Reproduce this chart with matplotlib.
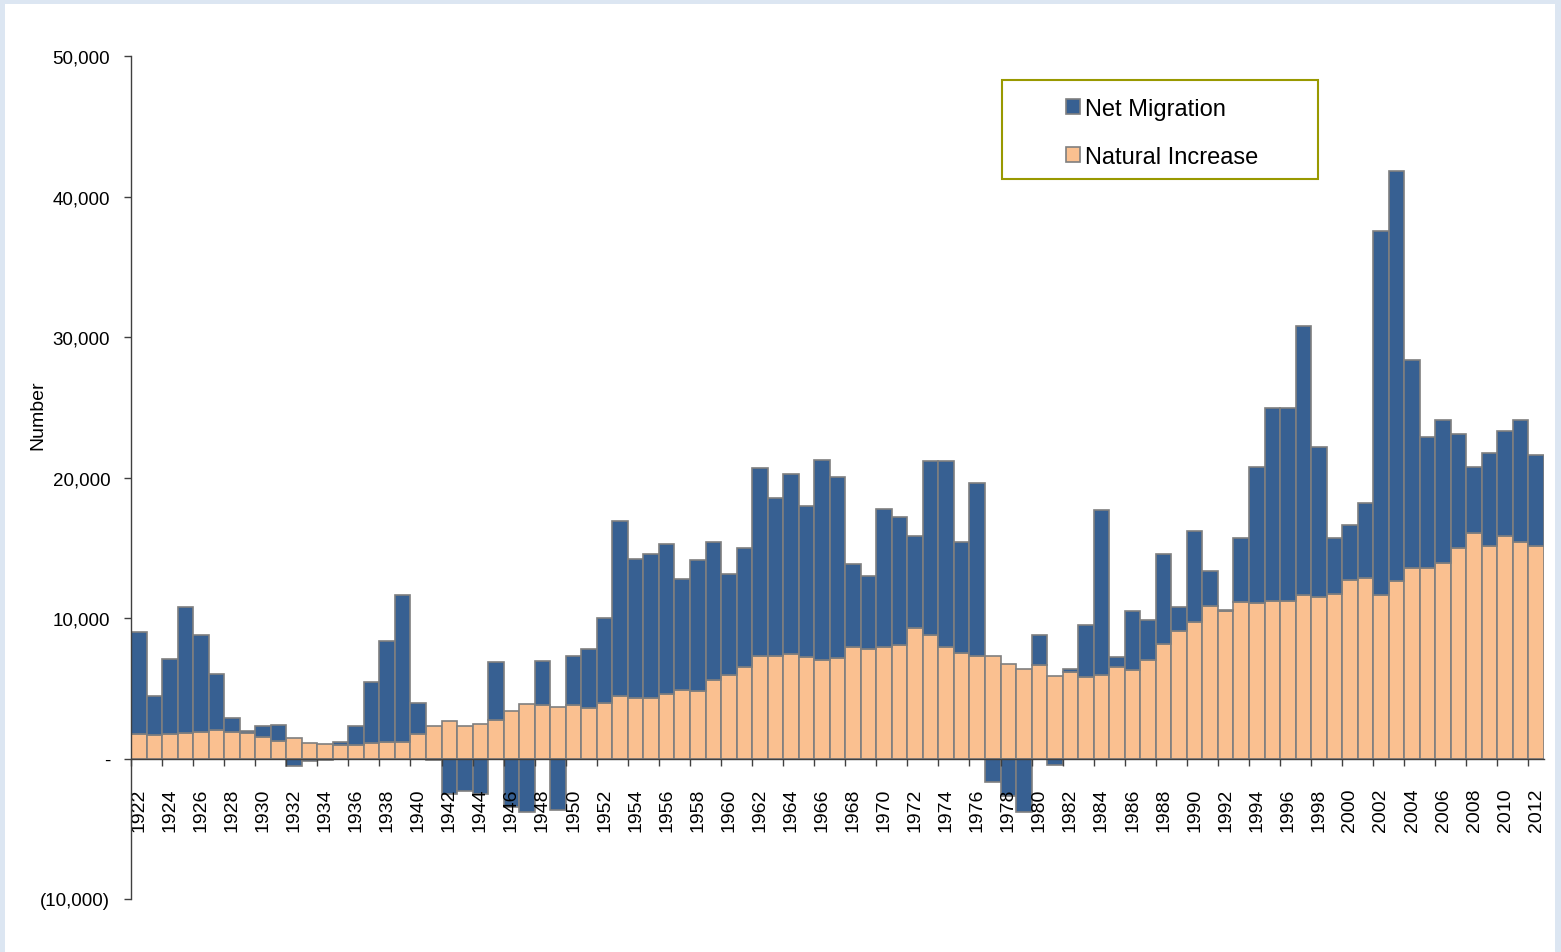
import numpy as np
import matplotlib
matplotlib.use("Agg")
import matplotlib.pyplot as plt
from matplotlib.patches import Rectangle
from matplotlib.ticker import FixedLocator, FuncFormatter

plt.rcParams["font.family"] = ["Liberation Sans", "DejaVu Sans"]

# ── data ───────────────────────────────────────────────────────────────────
years = list(range(1922, 2013))

natural_increase = [
    1760, 1660, 1760, 1830, 1900, 2000, 1900, 1850, 1540, 1240,   # 1922-1931
    1430, 1120, 1020, 970, 950, 1120, 1160, 1160, 1760, 2300,     # 1932-1941
    2680, 2300, 2470, 2760, 3400, 3870, 3800, 3630, 3800, 3560,   # 1942-1951
    3940, 4470, 4300, 4300, 4580, 4890, 4820, 5600, 5910, 6530,   # 1952-1961
    7270, 7320, 7460, 7240, 7030, 7170, 7910, 7770, 7910, 8050,   # 1962-1971
    9310, 8810, 7910, 7530, 7270, 7270, 6750, 6390, 6670, 5880,   # 1972-1981
    6140, 5820, 5950, 6510, 6290, 7010, 8140, 9080, 9730, 10860,  # 1982-1991
    10490, 11170, 11080, 11240, 11240, 11640, 11520, 11740, 12710, 12860,  # 1992-2001
    11640, 12650, 13580, 13580, 13900, 14990, 16030, 15090, 15810, 15430,  # 2002-2011
    15090,                                                          # 2012
]

net_migration = [
    7220, 2810, 5290, 8970, 6860, 4030, 970, 100, 760, 1160,       # 1922-1931
    -520, -200, -120, 220, 1350, 4320, 7220, 10480, 2180, -120,    # 1932-1941
    -2550, -2330, -2500, 4140, -3480, -3820, 3110, -3680, 3490, 4210,  # 1942-1951
    6080, 12440, 9880, 10260, 10720, 7890, 9290, 9840, 7220, 8480,  # 1952-1961
    13440, 11230, 12800, 10720, 14250, 12850, 5910, 5220, 9830, 9150,  # 1962-1971
    6510, 12330, 13230, 7910, 12350, -1650, -2700, -3800, 2130, -480,  # 1972-1981
    250, 3700, 11730, 720, 4230, 2850, 6450, 1720, 6450, 2470,     # 1982-1991
    100, 4510, 9670, 13740, 13740, 19130, 10670, 3940, 3940, 5360,  # 1992-2001
    25890, 29140, 14810, 9270, 10200, 8080, 4720, 6660, 7510, 8640,  # 2002-2011
    6510,                                                          # 2012
]

series_labels = ["Net Migration", "Natural Increase"]
y_ticks = [-10000, 0, 10000, 20000, 30000, 40000, 50000]

BLUE = "#376092"
ORANGE = "#FAC090"
EDGE = "#7F7F7F"


def fmt_number(v, _pos=None):
    # Excel accounting style: "-" for zero, brackets for negatives
    if v == 0:
        return "-"
    if v < 0:
        return f"({abs(v):,.0f})"
    return f"{v:,.0f}"


def main():
    W, H = 1561, 953
    fig = plt.figure(figsize=(W / 100, H / 100), dpi=100, facecolor="#DCE6F2")
    # white panel inside the light blue frame
    fig.patches.append(Rectangle((5 / W, 0), 1550 / W, 948 / H,
                                 transform=fig.transFigure, facecolor="white",
                                 edgecolor="none", zorder=-10))

    ax = fig.add_axes([131 / W, 1 - 900 / H, (1544 - 131) / W, (900 - 57) / H])
    ax.set_facecolor("none")

    x = np.arange(len(years))
    nat = np.array(natural_increase)
    mig = np.array(net_migration)

    ax.bar(x, nat, width=1.0, color=ORANGE, edgecolor=EDGE, linewidth=1.2,
           label=series_labels[1], zorder=1)
    ax.bar(x, mig, width=1.0, bottom=np.where(mig > 0, nat, 0), color=BLUE,
           edgecolor=EDGE, linewidth=1.2, label=series_labels[0], zorder=1)

    ax.set_xlim(-0.5, len(years) - 0.5)
    ax.set_ylim(-10000, 50000)

    # axes lines
    ax.spines["top"].set_visible(False)
    ax.spines["right"].set_visible(False)
    ax.spines["bottom"].set_position(("data", 0))
    for s in ("left", "bottom"):
        ax.spines[s].set_color("#404040")
        ax.spines[s].set_linewidth(1.0)

    # y axis
    ax.yaxis.set_major_locator(FixedLocator(y_ticks))
    ax.yaxis.set_major_formatter(FuncFormatter(fmt_number))
    ax.tick_params(axis="y", direction="out", length=5, width=1, color="#404040",
                   labelsize=13.5, pad=10)
    ax.set_ylabel("Number", fontsize=14)
    ax.yaxis.set_label_coords(-0.060, 0.575)

    # x axis: tick marks at every second category boundary, labels on the bars
    even_idx = [i for i, y in enumerate(years) if y % 2 == 0]
    ax.set_xticks([i - 0.5 for i in even_idx])
    ax.set_xticklabels([])
    ax.set_xticks(even_idx, minor=True)
    ax.set_xticklabels([str(years[i]) for i in even_idx], minor=True,
                       rotation=90, fontsize=14)
    ax.tick_params(axis="x", which="major", direction="out", length=5, width=1,
                   color="#404040")
    ax.tick_params(axis="x", which="minor", length=0, pad=21)

    # legend with olive frame
    handles, labels = ax.get_legend_handles_labels()
    order = [1, 0]
    fig.patches.append(Rectangle((1002 / W, 1 - 180 / H), 316 / W, 99 / H,
                                 transform=fig.transFigure, facecolor="white",
                                 edgecolor="#999900", linewidth=1.5, zorder=5))
    leg = fig.legend([handles[i] for i in order], [labels[i] for i in order],
                     loc="upper left", bbox_to_anchor=(1045 / W, 1 - 78 / H),
                     frameon=False, fontsize=17, handlelength=0.6,
                     handleheight=0.6, handletextpad=0.2, labelspacing=1.1)
    leg.set_zorder(6)

    fig.savefig("out.png", dpi=100, facecolor=fig.get_facecolor())
    plt.close(fig)


if __name__ == "__main__":
    main()
